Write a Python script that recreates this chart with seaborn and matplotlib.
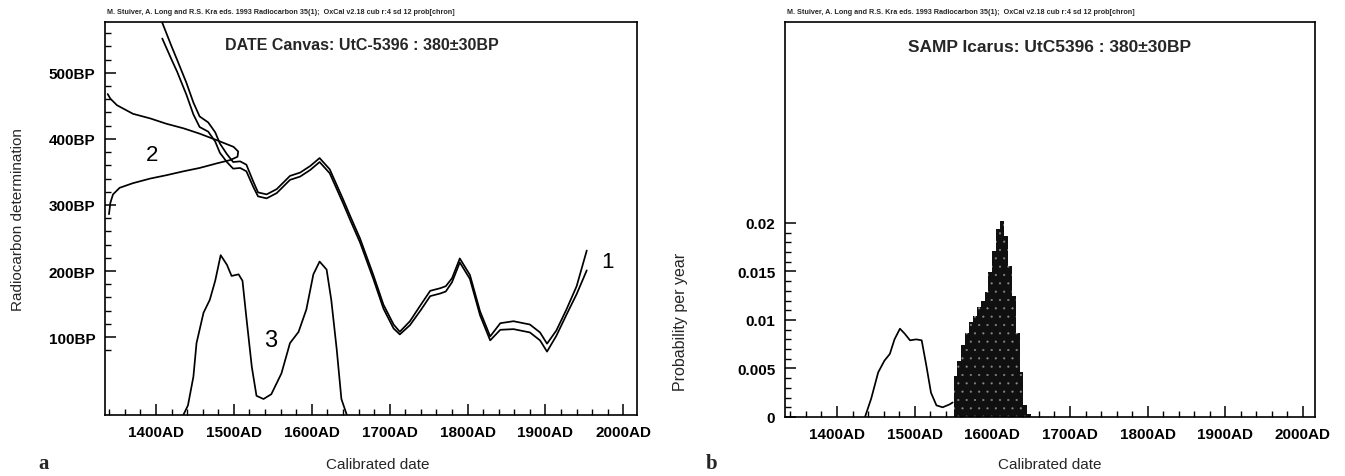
import matplotlib
matplotlib.use("Agg")
import matplotlib.pyplot as plt
import seaborn as sns
import pandas as pd
from matplotlib.ticker import FixedLocator, NullFormatter

sns.set_theme(style="white")
plt.rcParams['font.family'] = ['Liberation Sans', 'DejaVu Sans']
plt.rcParams['hatch.linewidth'] = 0.3

# ---------------- data ----------------
header_text = "M. Stuiver, A. Long and R.S. Kra eds. 1993 Radiocarbon 35(1);  OxCal v2.18 cub r:4 sd 12 prob[chron]"
title_left = "DATE Canvas: UtC-5396 : 380\u00b130BP"
title_right = "SAMP Icarus: UtC5396 : 380\u00b130BP"

# curve 1: calibration curve (cal AD, BP centre, half width)
cal_year = [1408, 1420, 1427, 1439, 1448, 1456, 1467, 1476, 1482, 1491, 1499, 1508, 1516,
            1525, 1531, 1542, 1555, 1572, 1585, 1598, 1610, 1623, 1640, 1649, 1662, 1679,
            1692, 1705, 1713, 1726, 1740, 1752, 1765, 1772, 1780, 1790, 1803, 1816, 1829,
            1842, 1859, 1880, 1893, 1902, 1914, 1927, 1940, 1953]
cal_bp = [564, 530, 511, 476, 446, 426, 418, 403, 386, 371, 360, 361, 356,
          331, 316, 313, 321, 341, 346, 356, 368, 351, 306, 281, 246, 191,
          146, 116, 106, 121, 145, 166, 170, 173, 186, 216, 191, 136, 98,
          116, 118, 113, 101, 84, 106, 138, 171, 216]
cal_err = [12, 10, 9, 9, 9, 8, 7, 7, 7, 6, 5, 5, 5,
           4, 3, 3, 3, 3, 3, 3, 3, 3, 3, 3, 3, 3,
           3, 3, 2, 3, 4, 4, 4, 4, 3, 3, 3, 3, 3,
           5, 6, 6, 6, 6, 4, 4, 6, 15]

# curve 2: radiocarbon determination 380+-30BP (BP, relative probability)
c14_bp = [468, 461, 451, 438, 431, 423, 416, 408, 398, 388, 381, 373, 368, 363,
          356, 351, 345, 340, 333, 326, 316, 303, 286]
c14_prob = [0.02, 0.04, 0.09, 0.21, 0.34, 0.46, 0.59, 0.71, 0.84, 0.965, 1.0, 0.995,
            0.94, 0.84, 0.71, 0.59, 0.46, 0.34, 0.21, 0.11, 0.06, 0.04, 0.03]

# curve 3: calibrated distribution (cal AD, relative probability)
calib_year = [1435, 1441, 1448, 1452, 1461, 1469, 1476, 1483, 1491, 1497, 1506, 1511,
              1516, 1523, 1529, 1538, 1548, 1561, 1572, 1583, 1593, 1602, 1610, 1619,
              1625, 1632, 1638, 1645]
calib_prob = [0.0, 0.06, 0.24, 0.45, 0.64, 0.72, 0.84, 1.0, 0.94, 0.87, 0.88, 0.84,
              0.61, 0.30, 0.12, 0.10, 0.13, 0.26, 0.45, 0.52, 0.66, 0.88, 0.96, 0.91,
              0.72, 0.41, 0.10, 0.0]

# panel b: unselected part of the distribution (cal AD, probability per year)
samp_year = [1436, 1444, 1453, 1461, 1468, 1474, 1481, 1487, 1494, 1502, 1509, 1515,
             1521, 1528, 1536, 1545, 1549]
samp_prob = [0.0, 0.0019, 0.0046, 0.0058, 0.0065, 0.0080, 0.0091, 0.0086, 0.0079,
             0.0080, 0.0079, 0.0053, 0.0025, 0.0012, 0.0010, 0.0013, 0.0015]

# panel b: sampled histogram (bin start, probability per year)
bin_start = [1550, 1555, 1560, 1565, 1570, 1575, 1580, 1585, 1590, 1595, 1600, 1605,
             1610, 1615, 1620, 1625, 1630, 1635, 1640, 1645]
bin_prob = [0.0042, 0.0058, 0.0074, 0.0087, 0.0098, 0.0104, 0.0113, 0.0120, 0.0129,
            0.0149, 0.0171, 0.0194, 0.0202, 0.0187, 0.0156, 0.0125, 0.0087, 0.0046,
            0.0012, 0.0003]
bin_width = 5

x_major = [1400, 1500, 1600, 1700, 1800, 1900, 2000]
x_labels = ["1400AD", "1500AD", "1600AD", "1700AD", "1800AD", "1900AD", "2000AD"]
y_major_l = [100, 200, 300, 400, 500]
y_labels_l = ["100BP", "200BP", "300BP", "400BP", "500BP"]
y_major_r = [0, 0.005, 0.01, 0.015, 0.02]
y_labels_r = ["0", "0.005", "0.01", "0.015", "0.02"]

# ---------------- figure ----------------
W, H = 1345, 477
fig = plt.figure(figsize=(W / 100, H / 100), dpi=100)
fig.patch.set_facecolor("white")


def fx(px):
    return px / W


def fy(py):
    return 1 - py / H


axL = fig.add_axes([fx(105), fy(416), (637 - 105) / W, (416 - 23) / H])
axR = fig.add_axes([fx(785), fy(418), (1315 - 785) / W, (418 - 23) / H])

XL = (1334.5, 2017.5)
YL = (-18, 577)
XR = (1333, 2015.5)
YR = (0, 0.0407)

lc = "black"
lw = 1.25

# --- panel a ---
cal = pd.DataFrame({"year": cal_year, "bp": cal_bp, "err": cal_err})
cal["hi"] = cal["bp"] + cal["err"]
cal["lo"] = cal["bp"] - cal["err"]
sns.lineplot(data=cal, x="year", y="hi", ax=axL, color=lc, lw=lw, estimator=None, sort=False)
sns.lineplot(data=cal, x="year", y="lo", ax=axL, color=lc, lw=lw, estimator=None, sort=False)

c14 = pd.DataFrame({"bp": c14_bp, "p": c14_prob})
c14["x"] = XL[0] + c14["p"] * 171
sns.lineplot(data=c14, x="x", y="bp", ax=axL, color=lc, lw=lw, estimator=None, sort=False)

cd = pd.DataFrame({"year": calib_year, "p": calib_prob})
cd["y"] = YL[0] + cd["p"] * 242
sns.lineplot(data=cd, x="year", y="y", ax=axL, color=lc, lw=lw, estimator=None, sort=False)

axL.text(1980, 214, "1", fontsize=16, ha="center", va="center", color=lc)
axL.text(1395, 376, "2", fontsize=16, ha="center", va="center", color=lc)
axL.text(1547, 96, "3", fontsize=17, ha="center", va="center", color=lc)

axL.set_xlim(*XL)
axL.set_ylim(*YL)
axL.xaxis.set_major_locator(FixedLocator(x_major))
axL.xaxis.set_minor_locator(FixedLocator(list(range(1340, 2001, 20))))
axL.set_xticklabels(x_labels)
axL.yaxis.set_major_locator(FixedLocator(y_major_l))
axL.yaxis.set_minor_locator(FixedLocator(list(range(80, 577, 20))))
axL.set_yticklabels(y_labels_l)

# --- panel b ---
hist = pd.DataFrame({"year": [b + bin_width / 2 for b in bin_start], "p": bin_prob})
edges = bin_start + [bin_start[-1] + bin_width]
sns.histplot(data=hist, x="year", weights="p", bins=edges, ax=axR, color="#111111",
             alpha=1, element="bars", stat="count")
for p in axR.patches:
    p.set_facecolor("#101010")
    p.set_edgecolor("#8a8a8a")
    p.set_linewidth(0)
    p.set_hatch("..")

sp = pd.DataFrame({"year": samp_year, "p": samp_prob})
sns.lineplot(data=sp, x="year", y="p", ax=axR, color=lc, lw=lw, estimator=None, sort=False)

axR.set_xlim(*XR)
axR.set_ylim(*YR)
axR.xaxis.set_major_locator(FixedLocator(x_major))
axR.xaxis.set_minor_locator(FixedLocator(list(range(1340, 2001, 20))))
axR.set_xticklabels(x_labels)
axR.yaxis.set_major_locator(FixedLocator(y_major_r))
axR.yaxis.set_minor_locator(FixedLocator([i / 1000 for i in range(0, 21)]))
axR.set_yticklabels(y_labels_r)

for ax in (axL, axR):
    ax.set_xlabel("")
    ax.set_ylabel("")
    ax.set_facecolor("white")
    for s in ax.spines.values():
        s.set_color("black")
        s.set_linewidth(1.2)
        s.set_visible(True)
    ax.tick_params(axis="both", which="major", direction="in", length=8, width=1.1,
                   color="black", labelsize=11, labelcolor="black", pad=7,
                   bottom=True, left=True, top=False, right=False)
    ax.tick_params(axis="both", which="minor", direction="in", length=4, width=1.0,
                   color="black", bottom=True, left=True, top=False, right=False)
    ax.xaxis.set_minor_formatter(NullFormatter())
    ax.yaxis.set_minor_formatter(NullFormatter())
    for t in ax.get_xticklabels() + ax.get_yticklabels():
        t.set_fontweight("bold")
    ax.grid(False)

# ---------------- texts ----------------
fig.text(fx(107), fy(13), header_text, fontsize=5.2, fontweight="bold", ha="left", va="center")
fig.text(fx(787), fy(13), header_text, fontsize=5.2, fontweight="bold", ha="left", va="center")
fig.text(fx(225), fy(45), title_left, fontsize=11.5, fontweight="bold", ha="left", va="center")
fig.text(fx(1050), fy(48), title_right, fontsize=12.5, fontweight="bold", ha="center", va="center")
fig.text(fx(18), fy(220), "Radiocarbon determination", fontsize=11, rotation=90,
         ha="center", va="center")
fig.text(fx(680), fy(322), "Probability per year", fontsize=11.5, rotation=90,
         ha="center", va="center")
fig.text(fx(378), fy(465), "Calibrated date", fontsize=11, ha="center", va="center")
fig.text(fx(1050), fy(465), "Calibrated date", fontsize=11, ha="center", va="center")
fig.text(fx(44), fy(464), "a", fontsize=15, fontweight="bold", family="Liberation Serif",
         ha="center", va="center")
fig.text(fx(712), fy(464), "b", fontsize=15, fontweight="bold", family="Liberation Serif",
         ha="center", va="center")

fig.savefig("out.png", dpi=100, facecolor="white")
